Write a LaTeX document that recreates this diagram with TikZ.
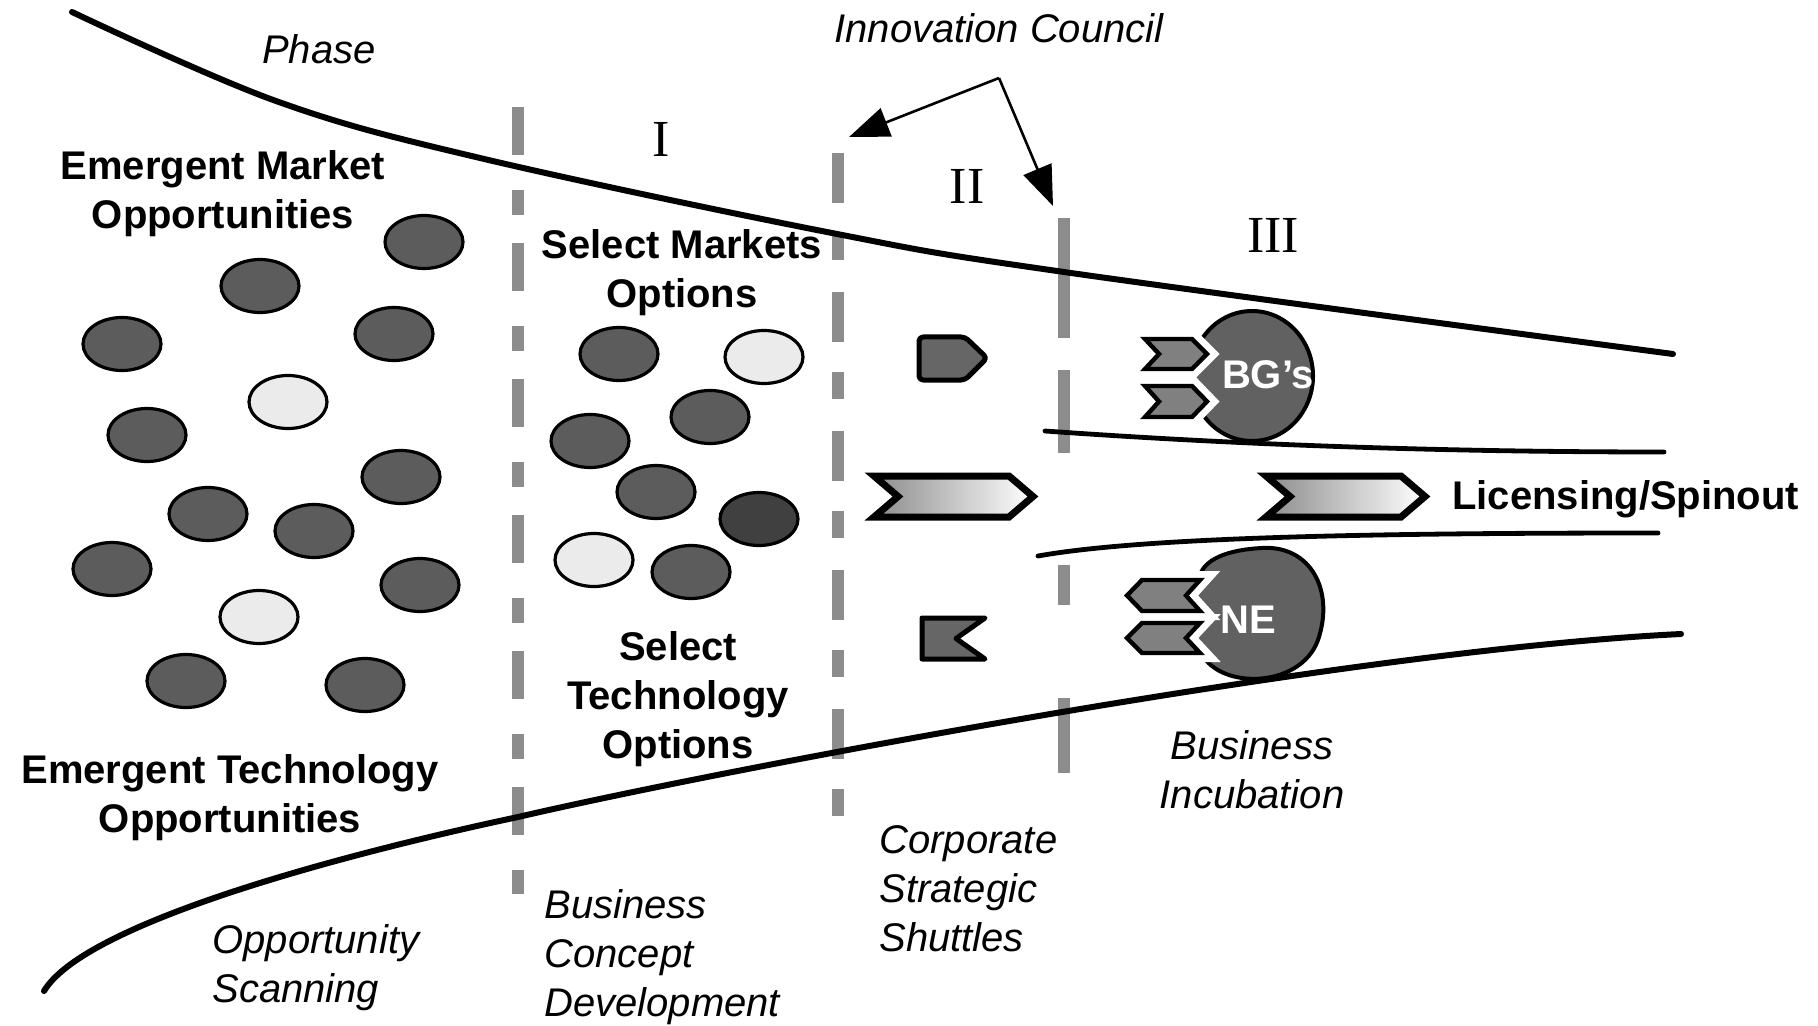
\documentclass[tikz,border=0pt]{standalone}
\usepackage{fontspec}
\setmainfont{Liberation Sans}
\newfontfamily\romfont{Liberation Serif}
\usetikzlibrary{arrows.meta,shapes.geometric}
\begin{document}
\begin{tikzpicture}[x=0.5pt,y=-0.5pt,
  curve/.style={line width=3pt, line cap=round, line join=round},
  innerline/.style={line width=2.4pt, line cap=round},
  colbar/.style={line width=6pt, draw=black!45},
  darkell/.style={ellipse, draw=black, line width=1.6pt, fill=black!64, minimum width=39pt, minimum height=26.5pt, inner sep=0pt},
  lightell/.style={ellipse, draw=black, line width=1.6pt, fill=black!8, minimum width=39pt, minimum height=26.5pt, inner sep=0pt},
  boldlbl/.style={font=\fontsize{20}{24.5}\selectfont\bfseries, align=center, inner sep=0pt},
  itlbl/.style={font=\fontsize{20}{24.5}\selectfont\itshape, inner sep=0pt},
  romanlbl/.style={font=\fontsize{26}{30}\selectfont\romfont, inner sep=0pt},
  chev/.style={draw=black, line width=3.5pt, line join=miter, left color=black!45, right color=white},
  darkshape/.style={draw=black, line width=2.5pt, fill=black!60, line join=round},
  smallchev/.style={draw=black, line width=2.2pt, fill=black!50, line join=miter, preaction={draw=white, line width=9pt}},
  blobstyle/.style={draw=black, line width=2pt, fill=black!62},
  arr/.style={line width=1.3pt, -{Triangle[length=20pt,width=15pt]}},
  whitelbl/.style={font=\fontsize{20}{24}\selectfont\bfseries, text=white, inner sep=0pt},
]
\useasboundingbox (0,0) rectangle (1818,1026);

% ---------- column dash bars ----------
\draw[colbar, dash pattern=on 24pt off 17.5pt on 12.5pt off 14pt] (518,107) -- (518,894);
\draw[colbar, dash pattern=on 25pt off 15pt on 13.5pt off 16pt] (838,153) -- (838,816);
\draw[colbar] (1064,218) -- (1064,338);
\draw[colbar] (1064,370) -- (1064,453);
\draw[colbar] (1064,565) -- (1064,605);
\draw[colbar] (1064,698) -- (1064,773);

% ---------- funnel curves ----------
\draw[curve] plot[smooth, tension=0.6] coordinates {(72,12) (276,101) (480,158) (832,233) (1064,272) (1673,354)};
\draw[curve] (44,991) .. controls (90,915) and (400,842) .. (518,817)
                      .. controls (720,770) and (1350,650) .. (1681,634);
\draw[innerline] (1045,431) .. controls (1200,442) and (1400,452) .. (1664,452);
\draw[innerline] (1038,556) .. controls (1150,536) and (1400,533) .. (1658,533);

% ---------- ellipses: emergent opportunities ----------
\node[darkell] (e1) at (424,242) {};
\node[darkell] (e2) at (260,286) {};
\node[darkell] (e3) at (122,344) {};
\node[darkell] (e4) at (394,334) {};
\node[lightell] (e5) at (288,402) {};
\node[darkell] (e6) at (147,435) {};
\node[darkell] (e7) at (401,477) {};
\node[darkell] (e8) at (208,514) {};
\node[darkell] (e9) at (314,531) {};
\node[darkell] (e10) at (112,569) {};
\node[darkell] (e11) at (420,585) {};
\node[lightell] (e12) at (259,617) {};
\node[darkell] (e13) at (186,681) {};
\node[darkell] (e14) at (365,685) {};
% ---------- ellipses: selected options ----------
\node[darkell] (s1) at (619,354) {};
\node[lightell] (s2) at (764,357) {};
\node[darkell] (s3) at (710,417) {};
\node[darkell] (s4) at (590,441) {};
\node[darkell] (s5) at (656,492) {};
\node[darkell, fill=black!75] (s6) at (759,519) {};
\node[lightell] (s7) at (594,560) {};
\node[darkell] (s8) at (691,572) {};

% ---------- shuttles ----------
\draw[darkshape, rounded corners=2pt] (919,337) -- (965,337) -- (987,358) -- (965,380) -- (919,380) -- cycle;
\draw[chev] (874,476) -- (1009,476) -- (1033,496.5) -- (1009,517) -- (874,517) -- (898,496.5) -- cycle;
\draw[darkshape] (922,618) -- (985,618) -- (956,638.5) -- (985,659) -- (922,659) -- cycle;
\draw[chev] (1266,476) -- (1401,476) -- (1425,496.5) -- (1401,517) -- (1266,517) -- (1290,496.5) -- cycle;

% ---------- BG's blob ----------
\draw[blobstyle] (1252,376) ellipse [x radius=61, y radius=65];
\draw[smallchev] (1145,339) -- (1192,339) -- (1207,354) -- (1192,369) -- (1145,369) -- (1159,354) -- cycle;
\draw[smallchev] (1145,386) -- (1192,386) -- (1207,401.5) -- (1192,417) -- (1145,417) -- (1159,401.5) -- cycle;
\node[whitelbl] (bg) at (1268,375) {BG's};

% ---------- NE blob ----------
\draw[blobstyle] (1200,575) -- (1188,596) -- (1202,606) -- (1188,638) -- (1200,650)
  .. controls (1215,690) and (1300,690) .. (1318,640)
  .. controls (1335,590) and (1310,545) .. (1262,548)
  .. controls (1225,550) and (1205,560) .. (1200,575) -- cycle;
\draw[smallchev] (1127,595.5) -- (1142,580) -- (1200,580) -- (1186,595.5) -- (1200,611) -- (1142,611) -- cycle;
\draw[smallchev] (1127,638) -- (1142,623) -- (1200,623) -- (1186,638) -- (1200,653) -- (1142,653) -- cycle;
\node[whitelbl] (ne) at (1248,620) {NE};

% ---------- labels ----------
\node[itlbl] (phase) at (319,49) {Phase};
\node[itlbl] (council) at (999,28) {Innovation Council};
\node[romanlbl] (ph1) at (661,139) {I};
\node[romanlbl] (ph2) at (967,186) {II};
\node[romanlbl] (ph3) at (1273,235) {III};
\node[boldlbl] (emm) at (223,194) {Emergent Market\\Opportunities};
\node[boldlbl] (smo) at (682,273) {Select Markets\\Options};
\node[boldlbl] (sto) at (678,699) {Select\\Technology\\Options};
\node[boldlbl] (emt) at (230,798) {Emergent Technology\\Opportunities};
\node[itlbl, align=left, anchor=west] (scan) at (212,968) {Opportunity\\Scanning};
\node[itlbl, align=left, anchor=west] (bcd) at (544,957) {Business\\Concept\\Development};
\node[itlbl, align=left, anchor=west] (css) at (879,889) {Corporate\\Strategic\\Shuttles};
\node[itlbl, align=center] (inc) at (1252,770) {Business\\Incubation};
\node[boldlbl, anchor=west] (lic) at (1452,499) {Licensing/Spinout};

% ---------- council arrows ----------
\coordinate (icA) at (999,78);
\coordinate (t1) at (849,137);
\coordinate (t2) at (1053,206);
\draw[arr] (icA) -- (t1);
\draw[arr] (icA) -- (t2);
\end{tikzpicture}
\end{document}
